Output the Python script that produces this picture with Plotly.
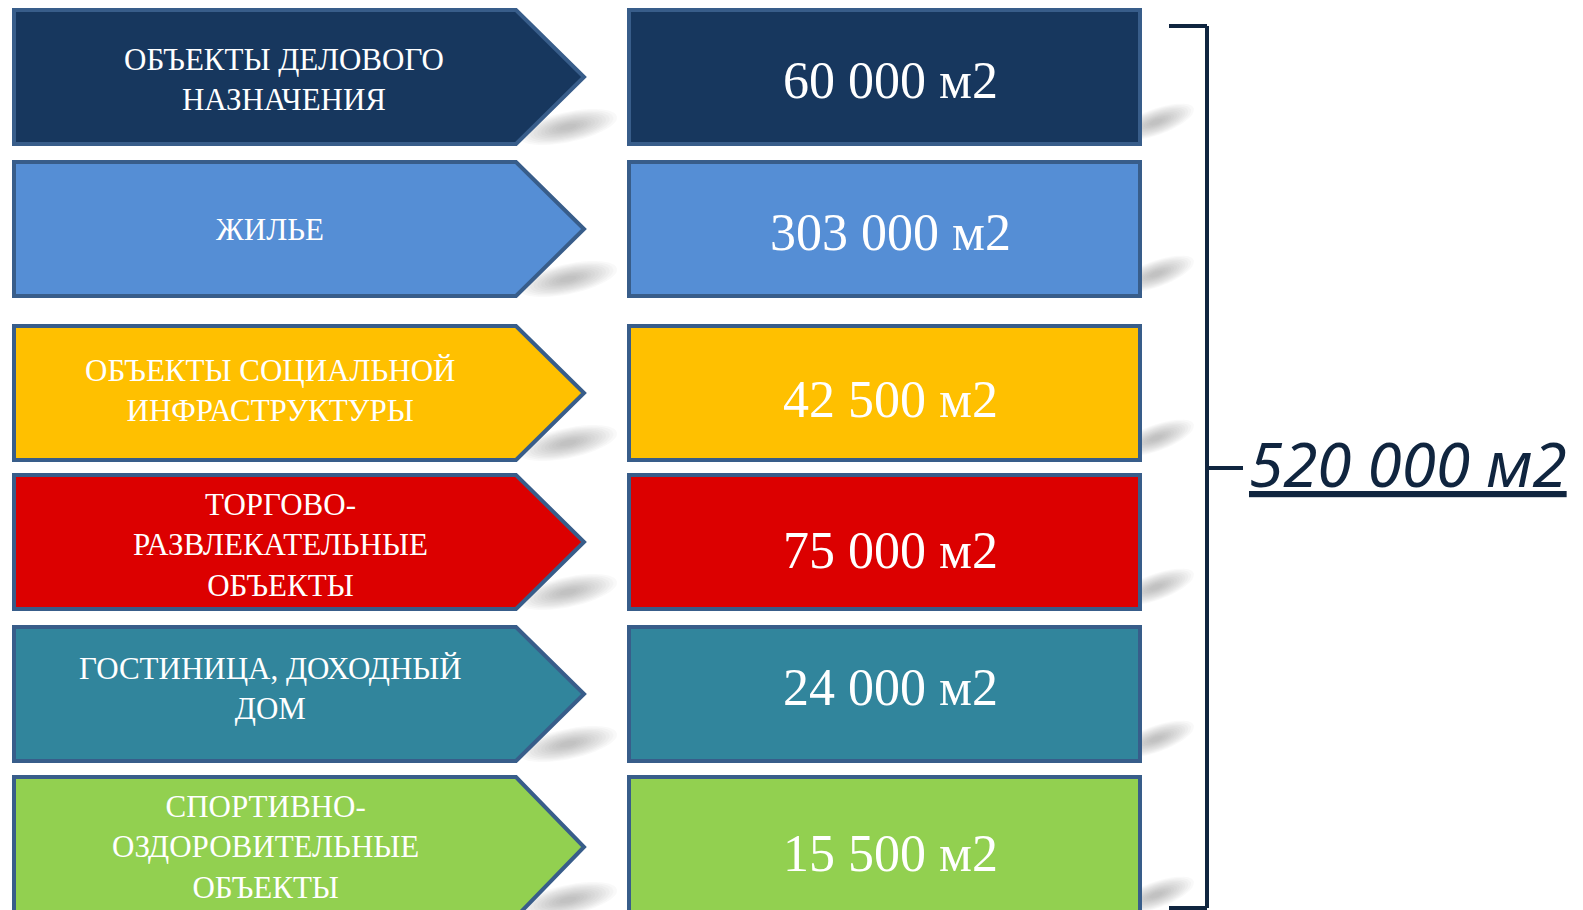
import numpy as np
import plotly.graph_objects as go

# ---------------- data ----------------
categories = [
    "ОБЪЕКТЫ ДЕЛОВОГО<br>НАЗНАЧЕНИЯ",
    "ЖИЛЬЕ",
    "ОБЪЕКТЫ СОЦИАЛЬНОЙ<br>ИНФРАСТРУКТУРЫ",
    "ТОРГОВО-<br>РАЗВЛЕКАТЕЛЬНЫЕ<br>ОБЪЕКТЫ",
    "ГОСТИНИЦА, ДОХОДНЫЙ<br>ДОМ",
    "СПОРТИВНО-<br>ОЗДОРОВИТЕЛЬНЫЕ<br>ОБЪЕКТЫ",
]
areas_m2 = [60000, 303000, 42500, 75000, 24000, 15500]
unit = "м2"
total_m2 = sum(areas_m2)

# ---------------- styles ----------------
fill_colors = ["#17375e", "#558ed5", "#ffc000", "#dc0000", "#31859c", "#92d050"]
outline = "#385d8a"
bracket_color = "#10253f"


def fmt(v):
    return f"{v:,}".replace(",", " ") + " " + unit


# ---------------- layout geometry (pixels of a 1583x910 canvas) ----------------
W, H = 1583, 910
row_tops = [10, 162, 326, 475, 627, 777]
row_h = 134
arrow_left, arrow_shoulder, arrow_tip = 14, 516, 584
rect_left, rect_right = 629, 1140
label_x = 270
label_dx = [14, 0, 0, 10, 0, -5]      # text-box nudges seen in the original
label_dy = [2, 0, -3, 3, -6, 0]
value_x = 890
value_dy = [3, 3, 6, 8, -7, 6]
bracket_x = 1207

fig = go.Figure()
shapes = []
annotations = []


def ellipse_path(cx, cy, rx, ry, ang_deg):
    t = np.linspace(0, 2 * np.pi, 48)
    a = np.deg2rad(ang_deg)
    xs = cx + rx * np.cos(t) * np.cos(a) - ry * np.sin(t) * np.sin(a)
    ys = cy + rx * np.cos(t) * np.sin(a) + ry * np.sin(t) * np.cos(a)
    pts = " L ".join(f"{x:.1f},{y:.1f}" for x, y in zip(xs, ys))
    return "M " + pts + " Z"


n = len(categories)
for i, (lab, val, col) in enumerate(zip(categories, areas_m2, fill_colors)):
    top = row_tops[i]
    bot = top + row_h if i < n - 1 else top + 140
    mid = (top + bot) / 2

    # soft blurred shadows (many translucent layers)
    layers = 12
    for k in range(layers):
        s = 1 - k * 0.075
        shapes.append(dict(type="path", xref="x", yref="y", layer="below",
                           path=ellipse_path(arrow_tip - 16, bot - 17, 50 * s, 15 * s, -12),
                           fillcolor="rgba(110,110,110,0.045)", line=dict(width=0)))
        shapes.append(dict(type="path", xref="x", yref="y", layer="below",
                           path=ellipse_path(rect_right + 16, bot - 22, 40 * s, 13 * s, -20),
                           fillcolor="rgba(110,110,110,0.045)", line=dict(width=0)))

    # arrow (pentagon)
    arrow = (f"M {arrow_left},{top} L {arrow_shoulder},{top} L {arrow_tip},{mid} "
             f"L {arrow_shoulder},{bot} L {arrow_left},{bot} Z")
    shapes.append(dict(type="path", xref="x", yref="y", path=arrow,
                       fillcolor=col, line=dict(color=outline, width=4)))
    # value rectangle
    shapes.append(dict(type="rect", xref="x", yref="y",
                       x0=rect_left, x1=rect_right, y0=top, y1=bot,
                       fillcolor=col, line=dict(color=outline, width=4)))

    annotations.append(dict(x=label_x + label_dx[i], y=mid + label_dy[i], xref="x", yref="y",
                            text=lab, showarrow=False, xanchor="center", yanchor="middle",
                            font=dict(family="Liberation Serif", size=31, color="white")))
    annotations.append(dict(x=value_x, y=mid + value_dy[i], xref="x", yref="y", text=fmt(val),
                            showarrow=False, xanchor="center", yanchor="middle",
                            font=dict(family="Liberation Serif", size=52, color="white")))

# bracket
br_top, br_bot, br_mid = 26, 908, 468
for x0, y0, x1, y1 in [(1169, br_top, bracket_x, br_top),
                       (bracket_x, br_top, bracket_x, br_bot),
                       (1169, br_bot, bracket_x, br_bot),
                       (bracket_x, br_mid, 1243, br_mid)]:
    shapes.append(dict(type="line", xref="x", yref="y", x0=x0, y0=y0, x1=x1, y1=y1,
                       line=dict(color=bracket_color, width=4)))

annotations.append(dict(x=1247, y=463, xref="x", yref="y",
                        text=f"<i><u>{fmt(total_m2)}</u></i>",
                        showarrow=False, xanchor="left", yanchor="middle",
                        font=dict(family="Noto Sans", size=62, color=bracket_color)))

fig.update_layout(
    width=W, height=H,
    margin=dict(l=0, r=0, t=0, b=0),
    paper_bgcolor="white", plot_bgcolor="white",
    xaxis=dict(range=[0, W], visible=False, fixedrange=True),
    yaxis=dict(range=[H, 0], visible=False, fixedrange=True),
    shapes=shapes, annotations=annotations, showlegend=False,
)

fig.write_html("out.html", config={"displayModeBar": False},
               post_script="document.body.style.margin='0';")
